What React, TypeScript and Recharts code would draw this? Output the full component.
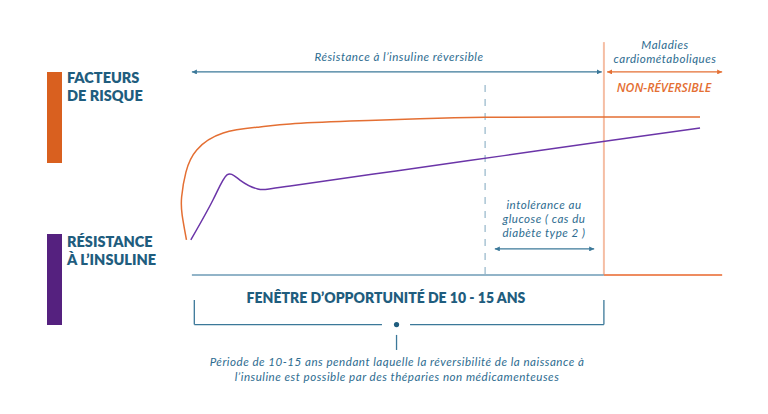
import React from 'react';
import { ComposedChart, Line, XAxis, YAxis, ReferenceLine, ReferenceDot } from 'recharts';

// x = position on the time line (0-100), y = level (0-100)
const facteursRisque = [
  { x: 1.2, y: 14.9 },
  { x: 0.4, y: 25.5 },
  { x: 0.3, y: 33.2 },
  { x: 1.1, y: 43.8 },
  { x: 3.1, y: 53.2 },
  { x: 8.0, y: 60.4 },
  { x: 14.8, y: 63.0 },
  { x: 20.4, y: 64.3 },
  { x: 31.5, y: 65.5 },
  { x: 44.4, y: 66.5 },
  { x: 56.5, y: 67.1 },
  { x: 76.0, y: 67.2 },
  { x: 96.3, y: 67.2 },
];

const resistanceInsuline = [
  { x: 2.0, y: 14.9 },
  { x: 6.1, y: 31.9 },
  { x: 8.7, y: 42.6 },
  { x: 11.1, y: 40.4 },
  { x: 14.4, y: 36.6 },
  { x: 20.4, y: 37.9 },
  { x: 40.0, y: 44.3 },
  { x: 60.0, y: 50.8 },
  { x: 80.0, y: 57.3 },
  { x: 96.3, y: 62.6 },
];

// phases of the time line
const phaseStart = 2.2;
const glucoseStart = 56.5;
const irreversibleStart = 78.5;
const phaseEnd = 100.4;

const maladiesLines = ['Maladies', 'cardiométaboliques'];
const glucoseLines = ['intolérance au', 'glucose ( cas du', 'diabète type 2 )'];
const periodeLines = [
  'Période de 10-15 ans pendant laquelle la réversibilité de la naissance à',
  'l’insuline est possible par des théparies non médicamenteuses',
];

const TEAL = '#3b7899';
const TEAL_LIGHT = '#93b5c9';
const TEXT = '#2d6c90';
const TITLE = '#1f5d7e';
const ORANGE = '#e46f33';
const ORANGE_LIGHT = '#f5bea4';
const PURPLE = '#6b35a8';

const italic: React.CSSProperties = { fontFamily: 'Lato, sans-serif', fontStyle: 'italic', letterSpacing: 0.5 };

const MultiLine = ({ x, y, lines, gap }: { x: number; y: number; lines: string[]; gap: number }) => (
  <text x={x} y={y}>
    {lines.map((l, i) => (
      <tspan key={i} x={x} dy={i === 0 ? 0 : gap}>{l}</tspan>
    ))}
  </text>
);

export default function App() {
  return (
    <div style={{ position: 'relative', width: 768, height: 414, background: '#fff' }}>
      <style>{`body{margin:0}`}</style>
      <svg width={0} height={0} style={{ position: 'absolute' }}>
        <defs>
          <marker id="arrow-teal" viewBox="0 0 10 10" refX="10" refY="5" markerWidth="5" markerHeight="5"
            markerUnits="userSpaceOnUse" orient="auto-start-reverse">
            <path d="M0,0 L10,5 L0,10 z" fill={TEAL} />
          </marker>
          <marker id="arrow-orange" viewBox="0 0 10 10" refX="10" refY="5" markerWidth="5" markerHeight="5"
            markerUnits="userSpaceOnUse" orient="auto-start-reverse">
            <path d="M0,0 L10,5 L0,10 z" fill={ORANGE} />
          </marker>
        </defs>
      </svg>

      <ComposedChart width={768} height={414} margin={{ top: 40, right: 48, bottom: 139, left: 180 }}>
        <XAxis type="number" dataKey="x" domain={[0, 100]} hide allowDataOverflow />
        <YAxis type="number" dataKey="y" domain={[0, 100]} hide allowDataOverflow />

        <ReferenceLine segment={[{ x: glucoseStart, y: 80.9 }, { x: glucoseStart, y: 0 }]}
          stroke={TEAL_LIGHT} strokeWidth={1.2} strokeDasharray="7 7" ifOverflow="visible" />
        <ReferenceLine segment={[{ x: irreversibleStart, y: 99.1 }, { x: irreversibleStart, y: 0 }]}
          stroke={ORANGE_LIGHT} strokeWidth={2} ifOverflow="visible" />

        <ReferenceLine segment={[{ x: phaseStart, y: 0 }, { x: irreversibleStart, y: 0 }]}
          stroke="#6e9bb6" strokeWidth={1.5} ifOverflow="visible" />
        <ReferenceLine segment={[{ x: irreversibleStart, y: 0 }, { x: phaseEnd, y: 0 }]}
          stroke="#ee8c60" strokeWidth={2} ifOverflow="visible" />

        <ReferenceLine segment={[{ x: phaseStart, y: 86.4 }, { x: 78.1, y: 86.4 }]}
          stroke={TEAL} strokeWidth={1.3} markerStart="url(#arrow-teal)" markerEnd="url(#arrow-teal)" ifOverflow="visible" />
        <ReferenceLine segment={[{ x: 79.1, y: 86.4 }, { x: phaseEnd, y: 86.4 }]}
          stroke={ORANGE} strokeWidth={1.3} markerStart="url(#arrow-orange)" markerEnd="url(#arrow-orange)" ifOverflow="visible" />
        <ReferenceLine segment={[{ x: 58.3, y: 11.1 }, { x: 76.7, y: 11.1 }]}
          stroke={TEAL} strokeWidth={1.3} markerStart="url(#arrow-teal)" markerEnd="url(#arrow-teal)" ifOverflow="visible" />

        {/* bracket under the window of opportunity */}
        <ReferenceLine segment={[{ x: 2.65, y: -10.6 }, { x: 2.65, y: -21.1 }]} stroke={TEAL} strokeWidth={1.3} ifOverflow="visible" />
        <ReferenceLine segment={[{ x: 2.65, y: -21.1 }, { x: 37.4, y: -21.1 }]} stroke={TEAL} strokeWidth={1.3} ifOverflow="visible" />
        <ReferenceLine segment={[{ x: 42.6, y: -21.1 }, { x: irreversibleStart, y: -21.1 }]} stroke={TEAL} strokeWidth={1.3} ifOverflow="visible" />
        <ReferenceLine segment={[{ x: irreversibleStart, y: -21.1 }, { x: irreversibleStart, y: -10.6 }]} stroke={TEAL} strokeWidth={1.3} ifOverflow="visible" />
        <ReferenceLine segment={[{ x: 40.1, y: -25.5 }, { x: 40.1, y: -31.9 }]} stroke={TEAL} strokeWidth={1.3} ifOverflow="visible" />
        <ReferenceDot x={40.1} y={-21.1} r={2.6} fill={TITLE} stroke="none" ifOverflow="visible" />

        <Line data={facteursRisque} dataKey="y" type="natural" stroke={ORANGE} strokeWidth={1.5}
          dot={false} isAnimationActive={false} />
        <Line data={resistanceInsuline} dataKey="y" type="natural" stroke={PURPLE} strokeWidth={1.5}
          dot={false} isAnimationActive={false} />
      </ComposedChart>

      <svg width={768} height={414} style={{ position: 'absolute', left: 0, top: 0, pointerEvents: 'none' }}>
        <rect x={47} y={72} width={15} height={91} fill="#d9601f" />
        <rect x={47} y={234} width={15} height={91} fill="#55217f" />
        <g fontFamily="Lato, sans-serif" fontWeight={800} fontSize={14.5} fill={TITLE}>
          <MultiLine x={67} y={83} lines={['FACTEURS', 'DE RISQUE']} gap={18} />
          <MultiLine x={67} y={247} lines={['RÉSISTANCE', 'À L’INSULINE']} gap={17.5} />
        </g>
        <text x={386} y={303} textAnchor="middle" fontFamily="Lato, sans-serif" fontWeight={800} fontSize={14} fill={TITLE}>
          FENÊTRE D’OPPORTUNITÉ DE 10 - 15 ANS
        </text>

        <g style={italic} fontSize={11.6} fill={TEXT} textAnchor="middle">
          <text x={399} y={61}>Résistance à l’insuline réversible</text>
          <MultiLine x={665} y={48.5} lines={maladiesLines} gap={14} />
          <MultiLine x={544} y={209} lines={glucoseLines} gap={14} />
          <MultiLine x={397} y={366} lines={periodeLines} gap={15} />
        </g>
        <text x={664} y={92} textAnchor="middle" fontFamily='"Open Sans", sans-serif' fontStyle="italic"
          fontWeight={600} fontSize={12.2} fill={ORANGE}>
          NON-RÉVERSIBLE
        </text>
      </svg>
    </div>
  );
}
